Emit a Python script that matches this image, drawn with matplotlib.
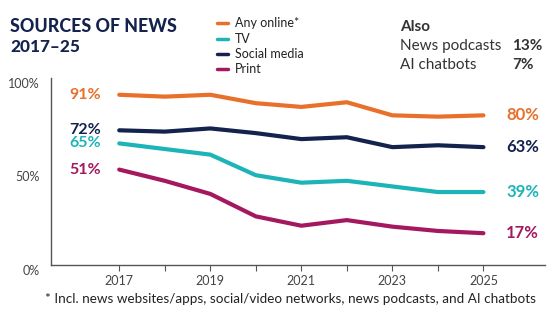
import matplotlib
matplotlib.use("Agg")
import matplotlib.pyplot as plt

plt.rcParams['font.family'] = ['Lato', 'DejaVu Sans']

# data
years = [2017, 2018, 2019, 2020, 2021, 2022, 2023, 2024, 2025]
any_online = [91, 90, 91, 86.5, 84.5, 87, 80, 79.3, 80]
social = [72, 71.3, 73, 70.5, 67.3, 68.3, 63, 64, 63]
tv = [65, 62, 59, 48, 44, 45, 42, 39, 39]
printed = [51, 45, 38, 26, 21, 24, 20.5, 18.2, 17]

series = [
    ("Any online*", any_online, "#E8702A"),
    ("TV", tv, "#1DB4B8"),
    ("Social media", social, "#14224E"),
    ("Print", printed, "#A4185F"),
]
also_labels = ["News podcasts", "AI chatbots"]
also_values = ["13%", "7%"]

fig = plt.figure(figsize=(5.6, 3.22), dpi=100)
ax = fig.add_axes([0.091, 0.177, 0.882, 0.581])

# draw order: print, tv, social, online
for name, vals, col in [series[3], series[1], series[2], series[0]]:
    ax.plot(years, vals, color=col, lw=3, solid_capstyle='round', solid_joinstyle='round')

for name, vals, col in series:
    ax.text(2016.6, vals[0], f"{vals[0]:.0f}%", color=col, fontsize=11.5, fontweight='bold',
            ha='right', va='center')
    ax.text(2025.5, vals[-1], f"{vals[-1]:.0f}%", color=col, fontsize=12, fontweight='bold',
            ha='left', va='center')

ax.set_xlim(2015.5, 2026.35)
ax.set_ylim(0, 100)
ax.set_yticks([0, 50, 100])
ax.set_yticklabels(["0%", "50%", "100%"])
ax.set_xticks(years)
ax.set_xticklabels([str(y) if y % 2 == 1 else "" for y in years])
for s in ["top", "right"]:
    ax.spines[s].set_visible(False)
for s in ["left", "bottom"]:
    ax.spines[s].set_color("#555555")
    ax.spines[s].set_linewidth(1)
ax.tick_params(axis='y', length=0, pad=8, labelsize=9, labelcolor="#444444")
ax.tick_params(axis='x', length=4, color="#555555", labelsize=9, labelcolor="#444444", pad=3)
for lab in ax.get_yticklabels():
    lab.set_va('top')

# title
fig.text(0.018, 0.9, "SOURCES OF NEWS", fontsize=12.8, fontweight='black', color="#14224E",
         va='baseline')
fig.text(0.018, 0.838, "2017–25", fontsize=12.3, fontweight='black', color="#14224E",
         va='baseline')

# legend
ly = [0.93, 0.88, 0.833, 0.785]
for (name, vals, col), y in zip(series, ly):
    fig.lines.append(plt.Line2D([0.388, 0.408], [y, y], transform=fig.transFigure,
                                color=col, lw=2.5, solid_capstyle='round'))
    fig.text(0.42, y, name, fontsize=9, color="#222222", va='center')

# also box
fig.text(0.714, 0.905, "Also", fontsize=11, fontweight='bold', color="#333333", va='baseline')
fig.text(0.714, 0.845, also_labels[0], fontsize=11, color="#333333", va='baseline')
fig.text(0.714, 0.785, also_labels[1], fontsize=11, color="#333333", va='baseline')
fig.text(0.914, 0.845, also_values[0], fontsize=11, fontweight='bold', color="#333333", va='baseline')
fig.text(0.914, 0.785, also_values[1], fontsize=11, fontweight='bold', color="#333333", va='baseline')

fig.text(0.518, 0.07, "* Incl. news websites/apps, social/video networks, news podcasts, and AI chatbots",
         fontsize=9.7, color="#222222", ha='center', va='center')

fig.savefig("out.png", dpi=100)
